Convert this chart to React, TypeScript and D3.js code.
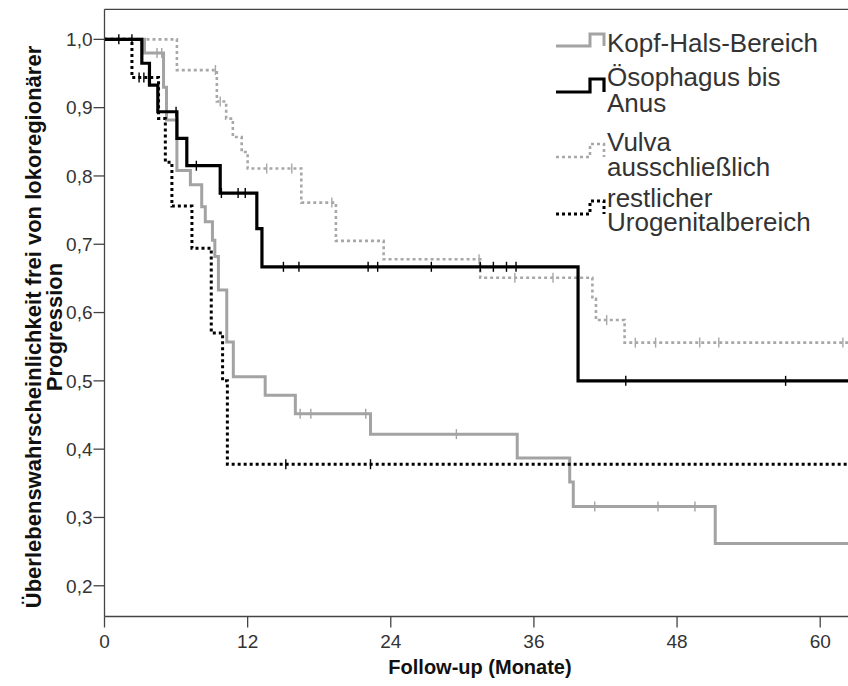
import React from "react";
import * as d3 from "d3";

// ---------- data ----------
const xTicks = [0, 12, 24, 36, 48, 60];
const yTicks = [0.2, 0.3, 0.4, 0.5, 0.6, 0.7, 0.8, 0.9, 1.0];

const kopfTimes = [0, 3.35, 4.95, 5.2, 6.07, 7.2, 8.15, 8.45, 9.05, 9.25, 9.55, 10.25, 10.8, 13.47, 16.0, 22.3, 34.6, 39.0, 39.3, 51.2];
const kopfSurv = [1.0, 0.98, 0.93, 0.882, 0.808, 0.787, 0.755, 0.733, 0.706, 0.682, 0.633, 0.557, 0.506, 0.479, 0.452, 0.422, 0.387, 0.352, 0.316, 0.262];
const kopfCensor = [4.4, 4.8, 16.4, 17.3, 21.9, 29.5, 41.1, 46.4, 49.5];

const oesoTimes = [0, 3.13, 3.77, 4.47, 6.07, 6.9, 9.7, 12.77, 13.2, 39.7];
const oesoSurv = [1.0, 0.965, 0.933, 0.894, 0.855, 0.815, 0.775, 0.723, 0.667, 0.5];
const oesoCensor = [1.2, 2.3, 6.0, 7.7, 9.8, 11.2, 11.8, 15.0, 16.3, 22.1, 22.9, 27.4, 31.5, 32.6, 33.7, 34.5, 43.7, 57.1];

const vulvaTimes = [0, 6.07, 9.42, 10.2, 10.76, 11.5, 12.0, 16.5, 19.4, 23.4, 31.5, 40.9, 41.2, 43.6];
const vulvaSurv = [1.0, 0.955, 0.909, 0.884, 0.857, 0.835, 0.811, 0.761, 0.705, 0.678, 0.651, 0.62, 0.589, 0.556];
const vulvaCensor = [9.3, 9.7, 13.6, 15.7, 19.06, 31.4, 34.4, 37.6, 42.1, 44.5, 46.2, 49.9, 51.5, 61.9];

const restTimes = [0, 2.3, 4.53, 5.1, 5.65, 7.33, 8.95, 9.9, 10.3];
const restSurv = [1.0, 0.944, 0.884, 0.82, 0.756, 0.694, 0.57, 0.5, 0.378];
const restCensor = [2.9, 3.3, 3.7, 15.2, 22.3];

const legendLabels = [
  ["Kopf-Hals-Bereich"],
  ["Ösophagus bis", "Anus"],
  ["Vulva", "ausschließlich"],
  ["restlicher", "Urogenitalbereich"],
];

const xTitle = "Follow-up (Monate)";
const yTitleLines = ["Überlebenswahrscheinlichkeit frei von lokoregionärer", "Progression"];

// ---------- layout / style ----------
const W = 848;
const H = 686;
const FONT = "'Liberation Sans', Arial, sans-serif";

const styles = [
  { color: "#a3a3a3", width: 3, dash: undefined as string | undefined },
  { color: "#000000", width: 3.2, dash: undefined as string | undefined },
  { color: "#a8a8a8", width: 2.6, dash: "3,3" },
  { color: "#000000", width: 3, dash: "3,3" },
];

const legendPos = [
  { lines: [52], low: 46, high: 34 },
  { lines: [86, 112], low: 92, high: 79 },
  { lines: [151, 176], low: 157, high: 144 },
  { lines: [207, 231], low: 214, high: 201 },
];

function survAt(times: number[], surv: number[], t: number) {
  let v = surv[0];
  for (let i = 0; i < times.length; i++) if (times[i] <= t) v = surv[i];
  return v;
}

export default function App() {
  const x = d3.scaleLinear().domain([0, 62.33]).range([104.5, 848]);
  const y = d3.scaleLinear().domain([0.155, 1.044]).range([616.5, 9.3]);
  const xMax = x.domain()[1] + 1;

  const series = [
    { times: kopfTimes, surv: kopfSurv, censor: kopfCensor },
    { times: oesoTimes, surv: oesoSurv, censor: oesoCensor },
    { times: vulvaTimes, surv: vulvaSurv, censor: vulvaCensor },
    { times: restTimes, surv: restSurv, censor: restCensor },
  ];

  const line = d3
    .line<[number, number]>()
    .x((d) => x(d[0]))
    .y((d) => y(d[1]))
    .curve(d3.curveStepAfter);

  const x0 = x(0);
  const yBottom = y.range()[0];
  const yTop = y.range()[1];
  const fmt = (v: number) => d3.format(".1f")(v).replace(".", ",");

  const order = [0, 2, 3, 1];

  return (
    <svg
      width={W}
      height={H}
      style={{ position: "absolute", left: 0, top: 0, background: "#fff" }}
      fontFamily={FONT}
    >
      <defs>
        <clipPath id="plot">
          <rect x={x0} y={yTop - 2} width={W - x0} height={yBottom - yTop + 2} />
        </clipPath>
      </defs>
      <rect x={0} y={0} width={W} height={H} fill="#fff" />

      {/* frame */}
      <line x1={x0} x2={W} y1={yTop} y2={yTop} stroke="#444" strokeWidth={1.3} />
      <line x1={x0} x2={W} y1={yBottom} y2={yBottom} stroke="#444" strokeWidth={1.3} />
      <line x1={x0} x2={x0} y1={yTop} y2={yBottom} stroke="#444" strokeWidth={1.3} />

      {/* y ticks */}
      {yTicks.map((t) => (
        <g key={"y" + t}>
          <line x1={x0 - 11} x2={x0} y1={y(t)} y2={y(t)} stroke="#444" strokeWidth={1.3} />
          <text x={x0 - 12} y={y(t)} dy="0.36em" textAnchor="end" fontSize={19} fill="#333">
            {fmt(t)}
          </text>
        </g>
      ))}

      {/* x ticks */}
      {xTicks.map((t) => (
        <g key={"x" + t}>
          <line x1={x(t)} x2={x(t)} y1={yBottom} y2={yBottom + 11} stroke="#444" strokeWidth={1.3} />
          <text x={x(t)} y={yBottom + 31} textAnchor="middle" fontSize={19} fill="#333">
            {t}
          </text>
        </g>
      ))}

      {/* axis titles */}
      <text x={480} y={674} textAnchor="middle" fontSize={20} fontWeight="bold" fill="#111">
        {xTitle}
      </text>
      {yTitleLines.map((s, i) => (
        <text
          key={s}
          transform={`translate(${41 + i * 21},327) rotate(-90)`}
          textAnchor="middle"
          fontSize={22}
          fontWeight="bold"
          fill="#111"
        >
          {s}
        </text>
      ))}

      {/* curves */}
      <g clipPath="url(#plot)">
        {order.map((si) => {
          const s = series[si];
          const st = styles[si];
          const pts: [number, number][] = s.times.map((t, i) => [t, s.surv[i]] as [number, number]);
          pts.push([xMax, s.surv[s.surv.length - 1]]);
          return (
            <g key={"s" + si}>
              <path
                d={line(pts) || ""}
                fill="none"
                stroke={st.color}
                strokeWidth={st.width}
                strokeDasharray={st.dash}
                strokeLinejoin="miter"
              />
              {s.censor.map((c, j) => {
                const v = survAt(s.times, s.surv, c);
                return (
                  <line
                    key={j}
                    x1={x(c)}
                    x2={x(c)}
                    y1={y(v) - 5}
                    y2={y(v) + 5}
                    stroke={st.color}
                    strokeWidth={1.4}
                  />
                );
              })}
            </g>
          );
        })}
      </g>

      {/* legend */}
      {legendLabels.map((lines, i) => {
        const p = legendPos[i];
        const st = styles[i];
        return (
          <g key={"l" + i}>
            <path
              d={`M556,${p.low}H590V${p.high}H604V${p.low}`}
              fill="none"
              stroke={st.color}
              strokeWidth={st.width}
              strokeDasharray={st.dash}
            />
            {lines.map((ln, k) => (
              <text key={k} x={607} y={p.lines[k]} fontSize={26} fill="#333">
                {ln}
              </text>
            ))}
          </g>
        );
      })}
    </svg>
  );
}
